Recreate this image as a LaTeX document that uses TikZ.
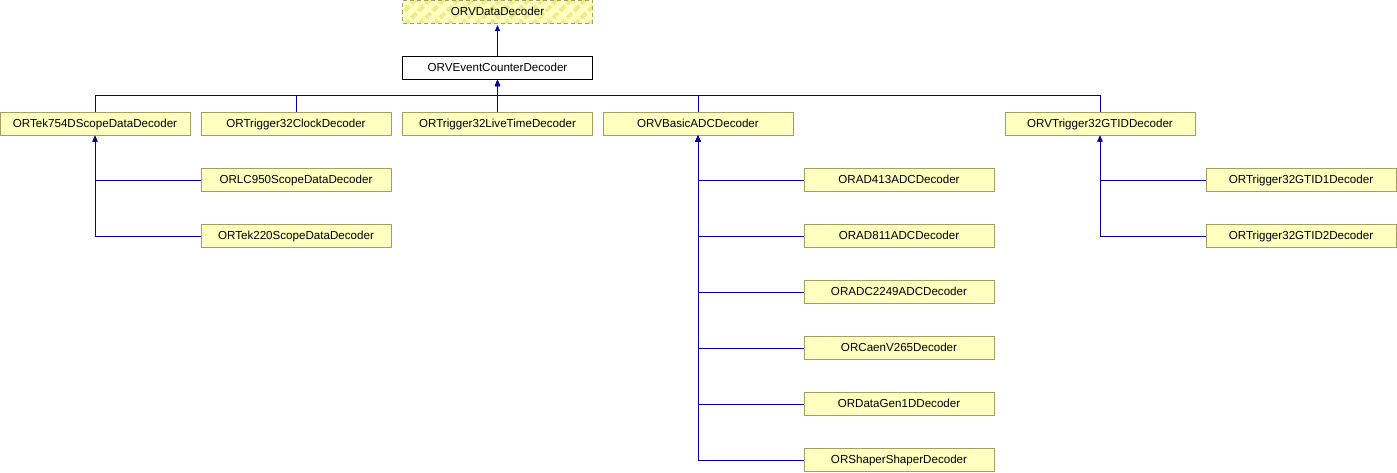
\documentclass[tikz,border=0pt]{standalone}
\usepackage{fontspec}
\setmainfont{Liberation Sans}
\usetikzlibrary{arrows.meta,patterns.meta}
\definecolor{dxEdge}{RGB}{0,0,160}
\definecolor{dxFill}{RGB}{255,255,192}
\definecolor{dxBorder}{RGB}{160,160,96}
\definecolor{dxHatch}{RGB}{236,236,140}
\tikzset{
    cls/.style={
        draw=#1,line width=1pt,fill=dxFill,
        minimum width=190pt,minimum height=23pt,inner sep=0pt,
        text height=8.5pt,text depth=1pt,
        font=\fontsize{11.6}{14}\selectfont
    },
    cls/.default=dxBorder,
    hatched/.style={
        cls,dashed,dash pattern=on 4pt off 3pt,
        preaction={fill=dxFill},
        pattern={Lines[angle=45,distance=10pt,line width=4pt]},
        pattern color=dxHatch
    },
    edge/.style={
        -{Triangle[length=6pt,width=5pt]},line width=1pt,draw=dxEdge
    }
}
\begin{document}
\begin{tikzpicture}[x=1pt,y=-1pt]
\useasboundingbox (0,0) rectangle (1397,472);

% top of the hierarchy
\node[hatched](base) at (497.5,11.5) {ORVDataDecoder};
\node[cls=black,fill=white](evc) at (497.5,68) {ORVEventCounterDecoder};

% second row
\node[cls](tek754) at (95,123.5) {ORTek754DScopeDataDecoder};
\node[cls](clock) at (296,123.5) {ORTrigger32ClockDecoder};
\node[cls](live) at (497.5,123.5) {ORTrigger32LiveTimeDecoder};
\node[cls](basic) at (698,123.5) {ORVBasicADCDecoder};
\node[cls](gtid) at (1100,123.5) {ORVTrigger32GTIDDecoder};

% scope decoders
\node[cls](lc950) at (296,180) {ORLC950ScopeDataDecoder};
\node[cls](tek220) at (296,236) {ORTek220ScopeDataDecoder};

% adc decoders
\node[cls](ad413) at (899,180) {ORAD413ADCDecoder};
\node[cls](ad811) at (899,236) {ORAD811ADCDecoder};
\node[cls](adc2249) at (899,292) {ORADC2249ADCDecoder};
\node[cls](caen) at (899,348) {ORCaenV265Decoder};
\node[cls](datagen) at (899,404) {ORDataGen1DDecoder};
\node[cls](shaper) at (899,460) {ORShaperShaperDecoder};

% gtid decoders
\node[cls](gtid1) at (1301,180) {ORTrigger32GTID1Decoder};
\node[cls](gtid2) at (1301,236) {ORTrigger32GTID2Decoder};

\draw[edge](evc)--(base);
\foreach \c in {tek754,clock,live,basic,gtid}
  \draw[edge](\c.north)--++(0,-16)-|(evc.south);
\foreach \c in {lc950,tek220}
  \draw[edge](\c.west)-|(tek754.south);
\foreach \c in {ad413,ad811,adc2249,caen,datagen,shaper}
  \draw[edge](\c.west)-|(basic.south);
\foreach \c in {gtid1,gtid2}
  \draw[edge](\c.west)-|(gtid.south);

\end{tikzpicture}
\end{document}
